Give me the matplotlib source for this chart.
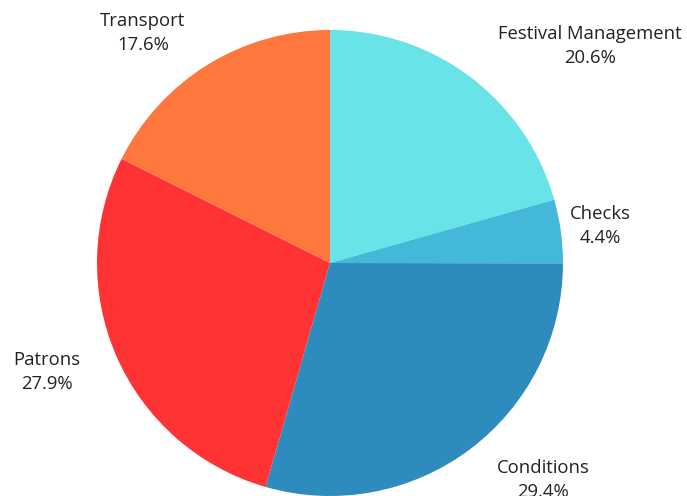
import matplotlib.pyplot as plt

# data
labels = ["Festival Management", "Checks", "Conditions", "Patrons", "Transport"]
shares = [20.6, 4.4, 29.4, 27.9, 17.6]
colors = ["#68E3E8", "#44B8D8", "#2E8BBE", "#FF3333", "#FF773D"]

# label placement (data units, pie radius = 1)
label_pos = [(1.116, 0.931), (1.159, 0.159), (0.914, -0.931),
             (-1.215, -0.468), (-0.803, 0.987)]

plt.rcParams['font.family'] = ['Open Sans', 'DejaVu Sans']

fig = plt.figure(figsize=(6.87, 4.96), dpi=100)
ax = fig.add_axes([97 / 687, 0, 466 / 687, 466 / 496])
ax.pie(shares, colors=colors, startangle=90, counterclock=False,
       wedgeprops=dict(linewidth=0))
ax.set_xlim(-1, 1)
ax.set_ylim(-1, 1)
ax.set_aspect("equal")
ax.axis("off")

for name, val, (x, y) in zip(labels, shares, label_pos):
    ax.text(x, y, "{}\n{:.1f}%".format(name, val), ha="center", va="center",
            fontsize=13.3, color="#222222", linespacing=1.45, clip_on=False)

fig.savefig("out.png", dpi=100)
